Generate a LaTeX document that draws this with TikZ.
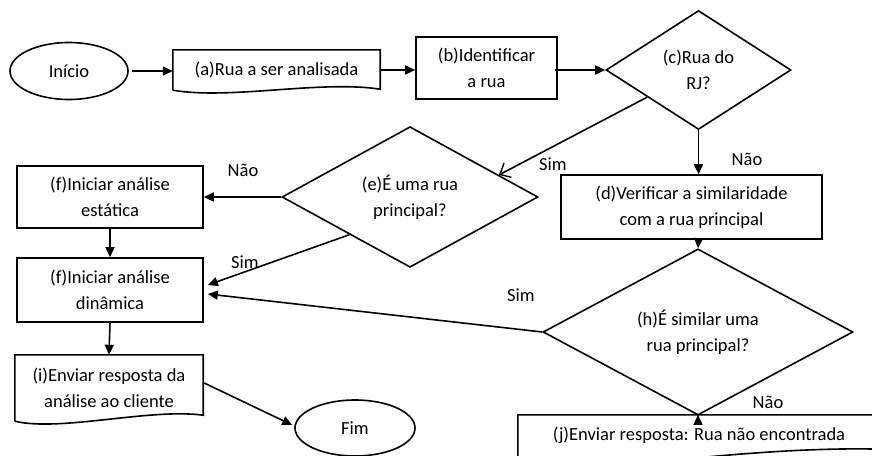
\documentclass[tikz,border=0pt]{standalone}
\usepackage{fontspec}
\setmainfont{Carlito}
\usetikzlibrary{shapes.geometric,arrows.meta,calc}
\begin{document}
\begin{tikzpicture}[x=1pt,y=-1pt,
  every node/.style={font=\fontsize{18.5}{26}\selectfont, inner sep=0pt, align=center},
  ln/.style={line width=1.6pt},
  arr/.style={ln,-{Triangle[length=10pt,width=9pt]}},
  oarr/.style={ln,-{Straight Barb[length=9pt,width=16pt,line width=1.4pt]}},
  boxn/.style={draw,line width=1.6pt,rectangle},
  docn/.style={rectangle},
  term/.style={draw,line width=1.6pt,ellipse},
  dec/.style={draw,line width=1.6pt,diamond},
  lbl/.style={font=\fontsize{18.5}{26}\selectfont}]
\useasboundingbox (0,0) rectangle (872,455);
\clip (0,0) rectangle (872,455);
\fill[white] (0,0) rectangle (872,455);

% nodes
\node[term, minimum width=118pt, minimum height=57pt] (start) at (69,71) {Início};
\node[docn, minimum width=207pt, minimum height=40pt] (a) at (276.5,70) {(a)Rua a ser analisada};
\node[boxn, minimum width=141pt, minimum height=62pt] (b) at (486.5,68) {(b)Identificar\\a rua};
\node[dec, minimum width=185pt, minimum height=119pt] (c) at (698.5,70) {(c)Rua do\\RJ?};
\node[boxn, minimum width=261pt, minimum height=64pt] (d) at (691.5,207) {(d)Verificar a similaridade\\com a rua principal};
\node[dec, minimum width=256pt, minimum height=119pt] (e) at (410,197) {(e)É uma rua\\principal?};
\node[boxn, minimum width=186pt, minimum height=62pt] (fe) at (110,197) {(f)Iniciar análise\\estática};
\node[boxn, minimum width=186pt, minimum height=64pt] (fd) at (110,290) {(f)Iniciar análise\\dinâmica};
\node[dec, minimum width=310pt, minimum height=120pt] (h) at (698,332) {(h)É similar uma\\rua principal?};
\node[docn, minimum width=188pt, minimum height=66pt] (i) at (109,388) {(i)Enviar resposta da\\análise ao cliente};
\node[term, minimum width=120pt, minimum height=56pt] (fim) at (355,428) {Fim};
\node[docn, minimum width=364pt, minimum height=50pt] (j) at (700,440) {};
\node (jt) at (699,435) {(j)Enviar resposta: Rua não encontrada};

% document outlines
\draw[ln] (a.south west) -- (a.north west) -- (a.north east) -- ($(a.south east)+(0,-1)$)
  .. controls (320,80) and (230,100) .. (a.south west);
\draw[ln] (i.south west) -- (i.north west) -- (i.north east) -- ($(i.south east)+(0,-6)$)
  .. controls (150,408) and (60,432) .. (i.south west);
\draw[ln] ($(j.south west)+(0,10)$) -- (j.north west) -- (j.north east) -- ($(j.south east)+(0,-16)$)
  .. controls (760,446) and (620,468) .. ($(j.south west)+(0,10)$);

% connectors
\draw[arr] ($(start.east)+(3,0)$) -- (start.east -| a.west);
\draw[arr] (a.east) -- (a.east -| b.west);
\draw[arr] ($(b.east)+(-3,2)$) -- ($(c.west)$);
\draw[oarr] ($(c.west)!0.45!(c.south)$) coordinate (c1) -- ($(e.north)!0.69!(e.east)$) coordinate (e1);
\draw[arr] (c.south) -- (c.south |- d.north);
\draw[arr] (d.south -| c.south) -- (h.north);
\draw[arr] (e.west) -- (fe.east);
\draw[arr] (fe.south) -- (fd.north);
\draw[arr] ($(e.west)!0.53!(e.south)$) -- ($(fd.east)+(4,-5)$);
\draw[arr] (h.west) -- ($(fd.east)+(4,4)$);
\draw[arr] (fd.south) -- (i.north);
\draw[arr] ($(i.east)+(1,-5)$) -- ($(fim.west)+(-2,-3)$);
\draw[arr] (h.south) -- (h.south |- j.north);

% labels
\node[lbl] (l1) at (553,164) {Sim};
\node[lbl] (l2) at (747,159) {Não};
\node[lbl] (l3) at (243,170) {Não};
\node[lbl] (l4) at (245,262) {Sim};
\node[lbl] (l5) at (521,295) {Sim};
\node[lbl, fill=white, inner xsep=10pt, inner ysep=1pt] (l6) at (768,402) {Não};
\end{tikzpicture}
\end{document}
